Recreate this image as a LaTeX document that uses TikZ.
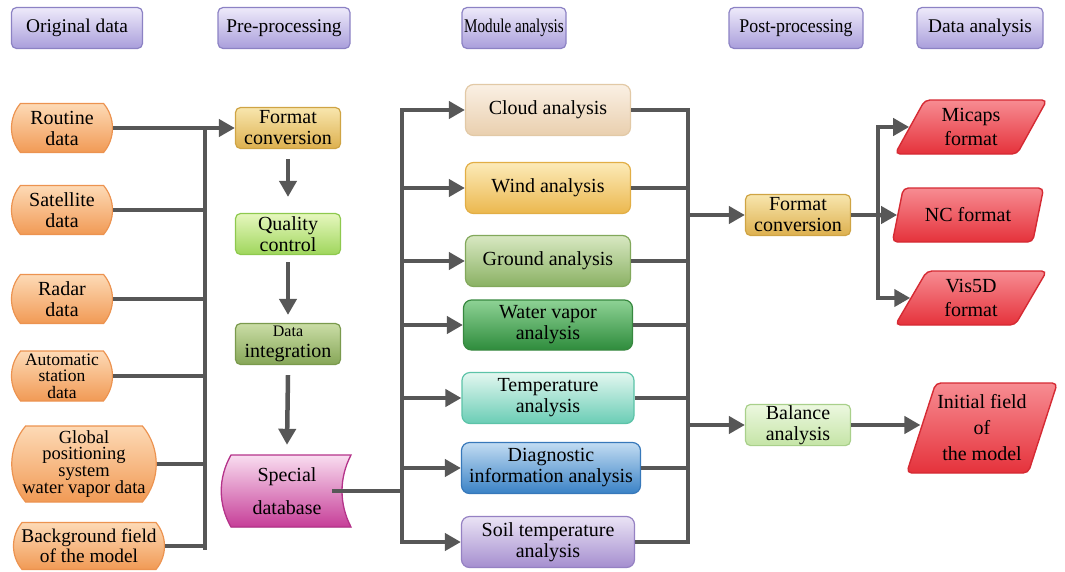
\documentclass[tikz,border=0pt]{standalone}
\usepackage{fontspec}
\usepackage{graphicx}
\setmainfont{Liberation Serif}
\newfontfamily\tnr{Liberation Serif}
\usetikzlibrary{arrows.meta,shapes.misc,shapes.geometric}
\definecolor{lineC}{HTML}{575757}
\definecolor{hdrT}{HTML}{EEEAFA}\definecolor{hdrB}{HTML}{A99EDB}\definecolor{hdrD}{HTML}{8C82C4}
\definecolor{orT}{HTML}{FDDAB6}\definecolor{orB}{HTML}{F19A55}\definecolor{orD}{HTML}{EC9350}
\definecolor{goT}{HTML}{F8E6AE}\definecolor{goB}{HTML}{DDB04E}\definecolor{goD}{HTML}{CFA444}
\definecolor{qcT}{HTML}{E6F7BE}\definecolor{qcB}{HTML}{9FD65C}\definecolor{qcD}{HTML}{8EC94E}
\definecolor{diT}{HTML}{CADDA6}\definecolor{diB}{HTML}{86A657}\definecolor{diD}{HTML}{7A9A4D}
\definecolor{sdT}{HTML}{F9DDF0}\definecolor{sdB}{HTML}{C63E98}\definecolor{sdD}{HTML}{B5338A}
\definecolor{clT}{HTML}{FAF0E4}\definecolor{clB}{HTML}{E9CFAE}\definecolor{clD}{HTML}{E2C9A6}
\definecolor{wiT}{HTML}{FCEAB8}\definecolor{wiB}{HTML}{EBB74E}\definecolor{wiD}{HTML}{E2AE45}
\definecolor{grT}{HTML}{D8E8C2}\definecolor{grB}{HTML}{8AB163}\definecolor{grD}{HTML}{82A85B}
\definecolor{wvT}{HTML}{8ED295}\definecolor{wvB}{HTML}{2E8C3C}\definecolor{wvD}{HTML}{37883F}
\definecolor{teT}{HTML}{E3F7F0}\definecolor{teB}{HTML}{6ACDB5}\definecolor{teD}{HTML}{5CC3A8}
\definecolor{dgT}{HTML}{C2DCF2}\definecolor{dgB}{HTML}{3A82C6}\definecolor{dgD}{HTML}{3778BA}
\definecolor{soT}{HTML}{EAE3F5}\definecolor{soB}{HTML}{A58ECF}\definecolor{soD}{HTML}{9581C3}
\definecolor{baT}{HTML}{EDF8E0}\definecolor{baB}{HTML}{C4E4A6}\definecolor{baD}{HTML}{A9D08B}
\definecolor{reT}{HTML}{F78C92}\definecolor{reB}{HTML}{E5323B}\definecolor{reD}{HTML}{D52A33}
\begin{document}
\begin{tikzpicture}[x=1pt,y=-1pt,
  txt/.style={align=center,font=\tnr\fontsize{20}{21}\selectfont,text=black},
  box/.style={txt,draw,line width=1.2pt,rounded corners=5pt,inner sep=1pt},
  hdr/.style={box,top color=hdrT,bottom color=hdrB,draw=hdrD,minimum height=41,font=\tnr\fontsize{19.4}{21}\selectfont},
  org/.style={txt,rounded rectangle,rounded rectangle arc length=80,draw=orD,line width=1.2pt,top color=orT,bottom color=orB,inner xsep=0pt,inner ysep=1pt},
  pre/.style={box,minimum width=105,minimum height=41},
  mod/.style={box,rounded corners=8pt,minimum height=51},
  par/.style={txt,trapezium,trapezium stretches=true,trapezium left angle=63,trapezium right angle=117,draw=reD,line width=1.4pt,top color=reT,bottom color=reB,rounded corners=5pt,inner sep=0pt,minimum width=152,minimum height=54},
  conn/.style={draw=lineC,line width=4.5pt},
  arr/.style={conn,-{Triangle[length=16pt,width=17pt]}}
]
\useasboundingbox (0,0) rectangle (1065,571);
% headers
\node[hdr,minimum width=131] (h1) at (77,28) {Original data};
\node[hdr,minimum width=132] (h2) at (284,28) {Pre-processing};
\node[hdr,minimum width=104] (h3) at (514,28) {\scalebox{0.78}[1]{Module analysis}};
\node[hdr,minimum width=134] (h4) at (796,28) {\scalebox{0.92}[1]{Post-processing}};
\node[hdr,minimum width=126] (h5) at (980,28) {Data analysis};
% original data
\node[org,minimum width=101,minimum height=49] (rout) at (62,128) {Routine\\data};
\node[org,minimum width=101,minimum height=49] (sat) at (62,210) {Satellite\\data};
\node[org,minimum width=101,minimum height=49] (rad) at (62,299) {Radar\\data};
\node[org,minimum width=101,minimum height=50,font=\tnr\fontsize{17.5}{16.5}\selectfont] (auto) at (62,376) {Automatic\\station\\data};
\node[org,minimum width=141,minimum height=76,font=\tnr\fontsize{18.5}{16.5}\selectfont] (gps) at (84,464) {Global\\positioning\\system\\water vapor data};
\node[org,minimum width=151,minimum height=47,font=\tnr\fontsize{19.4}{20}\selectfont] (bg) at (89,546) {Background field\\of the model};
% left bus
\coordinate (bL1) at (205,128);
\coordinate (bL2) at (205,548);
% pre-processing
\node[pre,top color=goT,bottom color=goB,draw=goD] (fc1) at (288,128) {Format\\conversion};
\node[pre,top color=qcT,bottom color=qcB,draw=qcD] (qc) at (288,234) {Quality\\control};
\node[pre,top color=diT,bottom color=diB,draw=diD] (di) at (288,344) {{\fontsize{16}{17}\selectfont Data}\\integration};
\fill[top color=sdT,bottom color=sdB,draw=sdD,line width=1.3pt]
  (231,455) -- (351,455) .. controls (339,478) and (339,504) .. (351,527)
  -- (231,527) .. controls (218,504) and (218,478) .. (231,455) -- cycle;
\node[txt,minimum width=110,minimum height=72,font=\tnr\fontsize{20}{33}\selectfont] (sdb) at (287,491) {Special\\database};
% module bus
\coordinate (bM) at (402,491);
% modules
\node[mod,minimum width=165,top color=clT,bottom color=clB,draw=clD] (cloud) at (548,110) {Cloud analysis};
\node[mod,minimum width=165,top color=wiT,bottom color=wiB,draw=wiD] (wind) at (548,188) {Wind analysis};
\node[mod,minimum width=165,top color=grT,bottom color=grB,draw=grD] (ground) at (548,261) {Ground analysis};
\node[mod,minimum width=169,minimum height=50,top color=wvT,bottom color=wvB,draw=wvD] (wv) at (548,325) {Water vapor\\analysis};
\node[mod,minimum width=172,top color=teT,bottom color=teB,draw=teD] (temp) at (548,398) {Temperature\\analysis};
\node[mod,minimum width=179,top color=dgT,bottom color=dgB,draw=dgD] (diag) at (551,468) {Diagnostic\\information analysis};
\node[mod,minimum width=173,top color=soT,bottom color=soB,draw=soD] (soil) at (548,542) {Soil temperature\\analysis};
% right bus
\coordinate (bR) at (688,215);
% post-processing
\node[pre,top color=goT,bottom color=goB,draw=goD] (fc2) at (798,215) {Format\\conversion};
\node[pre,top color=baT,bottom color=baB,draw=baD] (bal) at (798,425) {Balance\\analysis};
\coordinate (bD) at (878,215);
% data analysis
\node[par,font=\tnr\fontsize{20}{24}\selectfont] (mic) at (971,127) {Micaps\\format};
\node[par] (nc) at (968,215) {NC format};
\node[par,font=\tnr\fontsize{20}{24}\selectfont] (vis) at (971,298) {Vis5D\\format};
\node[par,trapezium left angle=67,trapezium right angle=113,minimum width=151,minimum height=90,font=\tnr\fontsize{20}{26}\selectfont] (init) at (982,428) {Initial field\\of\\the model};
% connectors: original data -> pre-processing
\draw[conn,line cap=rect] (bL1) -- (bL2);
\draw[arr] (rout.east) -- (fc1.west);
\draw[conn] (sat.east) -- (sat.east -| bL1);
\draw[conn] (rad.east) -- (rad.east -| bL1);
\draw[conn] (auto.east) -- (auto.east -| bL1);
\draw[conn] (gps.east) -- (gps.east -| bL1);
\draw[conn] (bg.east) -- (bg.east -| bL1);
\draw[arr] ([yshift=-10pt]fc1.south) -- ([yshift=16pt]qc.north);
\draw[arr] ([yshift=-7pt]qc.south) -- ([yshift=8pt]di.north);
\draw[arr] ([yshift=-10pt]di.south) -- ([yshift=10pt]sdb.north);
% special database -> modules
\draw[conn] ([xshift=-10pt]sdb.east) -- (bM);
\draw[conn,line cap=rect] (cloud.west -| bM) -- (soil.west -| bM);
\foreach \m in {cloud,wind,ground,wv,temp,diag,soil}
  \draw[arr] (\m.west -| bM) -- (\m.west);
% modules -> right bus
\draw[conn,line cap=rect] (cloud.east -| bR) -- (soil.east -| bR);
\foreach \m in {cloud,wind,ground,wv,temp,diag,soil}
  \draw[conn] (\m.east) -- (\m.east -| bR);
\draw[arr] (bR) -- (fc2.west);
\draw[arr] (bal.west -| bR) -- (bal.west);
% post-processing -> outputs
\draw[conn] (fc2.east) -- (bD);
\draw[conn,line cap=rect] (mic.west -| bD) -- (vis.west -| bD);
\draw[arr] (mic.west -| bD) -- (mic.west);
\draw[arr] (bD) -- (nc.west);
\draw[arr] (vis.west -| bD) -- (vis.west);
\draw[arr] (bal.east) -- (bal.east -| init.west);
\end{tikzpicture}
\end{document}
